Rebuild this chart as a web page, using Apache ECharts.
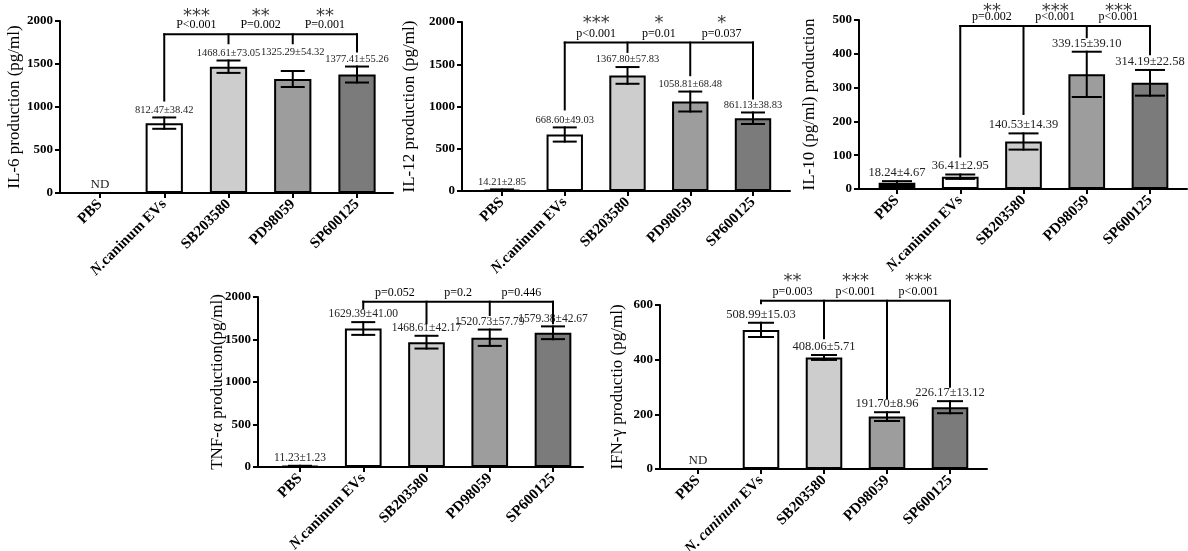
<!DOCTYPE html>
<html lang="en">
<head>
<meta charset="utf-8">
<script src="https://cdn.jsdelivr.net/npm/echarts/dist/echarts.min.js"></script>
</head>
<body style="margin:0;background:#fff">
<div id="main" style="width:1188px;height:551px"></div>
<script>
// groups on the x axis
var groups = ['PBS', 'N.caninum EVs', 'SB203580', 'PD98059', 'SP600125'];
var groupsIfn = ['PBS', 'N. caninum EVs', 'SB203580', 'PD98059', 'SP600125'];

// IL-6
var il6Mean = [null, 812.47, 1468.61, 1325.29, 1377.41];
var il6Err = [0, 66, 72, 93, 93];
var il6Text = ['ND', '812.47±38.42', '1468.61±73.05', '1325.29±54.32', '1377.41±55.26'];
var il6Drop = [null, 1075, 1741, 1741, 1644];
var il6Top = 1845;
var il6Stars = ['***', '**', '**'];
var il6P = ['P<0.001', 'P=0.002', 'P=0.001'];

// IL-12
var il12Mean = [14.21, 668.60, 1367.80, 1058.81, 861.13];
var il12Err = [5, 84, 99, 118, 68];
var il12Text = ['14.21±2.85', '668.60±49.03', '1367.80±57.83', '1058.81±68.48', '861.13±38.83'];
var il12Drop = [null, 965, 1646, 1370, 1094];
var il12Top = 1756;
var il12Stars = ['***', '*', '*'];
var il12P = ['p<0.001', 'p=0.01', 'p=0.037'];

// IL-10
var il10Mean = [18.24, 36.41, 140.53, 339.15, 314.19];
var il10Err = [5, 6.5, 24, 67, 38];
var il10Text = ['18.24±4.67', '36.41±2.95', '140.53±14.39', '339.15±39.10', '314.19±22.58'];
var il10Drop = [null, 96, 222, 449, 399];
var il10Top = 482;
var il10Stars = ['**', '***', '***'];
var il10P = ['p=0.002', 'p<0.001', 'p<0.001'];

// TNF-a
var tnfMean = [11.23, 1629.39, 1468.61, 1520.73, 1579.38];
var tnfErr = [3, 75, 75, 96, 75];
var tnfText = ['11.23±1.23', '1629.39±41.00', '1468.61±42.17', '1520.73±57.79', '1579.38±42.67'];
var tnfDrop = [null, 1867, 1690, 1788, 1690];
var tnfTop = 1945;
var tnfStars = ['', '', ''];
var tnfP = ['p=0.052', 'p=0.2', 'p=0.446'];

// IFN-g
var ifnMean = [null, 508.99, 408.06, 191.70, 226.17];
var ifnErr = [0, 26, 9, 16, 22];
var ifnText = ['ND', '508.99±15.03', '408.06±5.71', '191.70±8.96', '226.17±13.12'];
var ifnDrop = [null, 606, 478, 259, 301];
var ifnTop = 616;
var ifnStars = ['**', '***', '***'];
var ifnP = ['p=0.003', 'p<0.001', 'p<0.001'];

var barColors = ['#000000', '#ffffff', '#cdcdcd', '#9d9d9d', '#7b7b7b'];
var serif = "'Liberation Serif', 'DejaVu Serif', serif";

var panels = [
    {title: 'IL-6 production (pg/ml)', groups: groups, mean: il6Mean, err: il6Err, text: il6Text,
     drop: il6Drop, top: il6Top, stars: il6Stars, p: il6P, max: 2000, step: 500,
     axisX: 60, axisEnd: 393, first: 100, last: 357, y0: 21, y1: 193, gap: 37, valFont: 10.5, cap: 11,
     starGap: 18, lift: [0, 0, 0, 11, 0]},
    {title: 'IL-12 production (pg/ml)', groups: groups, mean: il12Mean, err: il12Err, text: il12Text,
     drop: il12Drop, top: il12Top, stars: il12Stars, p: il12P, max: 2000, step: 500,
     axisX: 462, axisEnd: 790, first: 502, last: 753, y0: 22, y1: 191, gap: 43.5, valFont: 10.5, cap: 11,
     starGap: 19, lift: [0, 0, 0, 0, 0]},
    {title: 'IL-10 (pg/ml) production', groups: groups, mean: il10Mean, err: il10Err, text: il10Text,
     drop: il10Drop, top: il10Top, stars: il10Stars, p: il10P, max: 500, step: 100,
     axisX: 859, axisEnd: 1187, first: 897, last: 1150, y0: 20, y1: 189, gap: 40.5, valFont: 12.5, cap: 14,
     starGap: 15, lift: [0, 0, 0, 0, 0]},
    {title: 'TNF-α production(pg/ml)', groups: groups, mean: tnfMean, err: tnfErr, text: tnfText,
     drop: tnfDrop, top: tnfTop, stars: tnfStars, p: tnfP, max: 2000, step: 500,
     axisX: 258, axisEnd: 583, first: 300, last: 553, y0: 297, y1: 467, gap: 31.5, valFont: 11.5, cap: 11,
     starGap: 18, lift: [0, 0, 0, 0, -1]},
    {title: 'IFN-γ productio (pg/ml)', groups: groupsIfn, mean: ifnMean, err: ifnErr, text: ifnText,
     drop: ifnDrop, top: ifnTop, stars: ifnStars, p: ifnP, max: 600, step: 200,
     axisX: 660, axisEnd: 987, first: 698, last: 950, y0: 305, y1: 469, gap: 33.5, valFont: 12.5, cap: 12,
     starGap: 19, lift: [0, 0, 0, 0, 0]}
];

function seg(x1, y1, x2, y2) {
    return {type: 'line', shape: {x1: x1, y1: y1, x2: x2, y2: y2},
            style: {stroke: '#000', lineWidth: 2, lineCap: 'square'}};
}
function txt(s, x, y, size, color, family) {
    return {type: 'text', style: {text: s, x: x, y: y, textAlign: 'center', textVerticalAlign: 'middle',
            fontSize: size, fontFamily: family || serif, fill: color}};
}

// error bars + value labels
function errorRender(p) {
    return function (params, api) {
        var i = params.dataIndex;
        var m = p.mean[i];
        var base = api.coord([i, m == null ? 0 : m]);
        var cx = base[0], topY = base[1];
        var kids = [];
        if (m != null && p.err[i] > 0) {
            var hi = api.coord([i, m + p.err[i]])[1];
            var lo = api.coord([i, m - p.err[i]])[1];
            kids.push(seg(cx, hi, cx, lo), seg(cx - p.cap, hi, cx + p.cap, hi), seg(cx - p.cap, lo, cx + p.cap, lo));
            topY = hi;
        }
        kids.push({type: 'text', style: {text: p.text[i], x: cx, y: topY - 2 - p.lift[i],
            textAlign: 'center', textVerticalAlign: 'bottom', fontSize: m == null ? 13 : p.valFont,
            fontFamily: serif, fill: '#222'}});
        return {type: 'group', children: kids};
    };
}

// significance bracket
function bracketRender(p) {
    return function (params, api) {
        var kids = [];
        var idx = [];
        p.drop.forEach(function (d, i) { if (d != null) idx.push(i); });
        var yTop = api.coord([0, p.top])[1];
        var xs = idx.map(function (i) { return api.coord([i, 0])[0]; });
        kids.push(seg(xs[0], yTop, xs[xs.length - 1], yTop));
        idx.forEach(function (i, k) {
            kids.push(seg(xs[k], yTop, xs[k], api.coord([i, p.drop[i]])[1]));
        });
        for (var k = 0; k < p.p.length; k++) {
            var mx = (api.coord([k + 1, 0])[0] + api.coord([k + 2, 0])[0]) / 2;
            kids.push(txt(p.p[k], mx, yTop - 9, 12, '#000'));
            if (p.stars[k]) kids.push(txt(p.stars[k], mx, yTop - p.starGap, 18, '#3a3a3a', "'DejaVu Sans', sans-serif"));
        }
        return {type: 'group', children: kids};
    };
}

var axisLine = {color: '#000', width: 2};
var grids = [], xAxes = [], yAxes = [], series = [];

panels.forEach(function (p, n) {
    var band = (p.last - p.first) / 4;
    var a = 2 * n, b = 2 * n + 1;
    grids.push({left: p.axisX, top: p.y0, width: p.axisEnd - p.axisX, height: p.y1 - p.y0, outerBoundsMode: 'none'});
    grids.push({left: p.first - band / 2, top: p.y0, width: band * 5, height: p.y1 - p.y0, outerBoundsMode: 'none'});

    xAxes.push({gridIndex: a, type: 'value', min: 0, max: 1,
        axisLine: {show: true, onZero: false, lineStyle: axisLine},
        axisTick: {show: false}, axisLabel: {show: false}, splitLine: {show: false}});
    yAxes.push({gridIndex: a, type: 'value', min: 0, max: p.max, interval: p.step,
        name: p.title, nameLocation: 'middle', nameGap: p.gap, nameMoveOverlap: false,
        nameTextStyle: {fontFamily: serif, fontSize: 17, color: '#000'},
        axisLine: {show: true, onZero: false, lineStyle: axisLine},
        axisTick: {show: true, length: 5, lineStyle: axisLine},
        axisLabel: {margin: 7, fontFamily: serif, fontSize: 13, fontWeight: 'bold', color: '#000',
            formatter: function (v) { return String(v); }},
        splitLine: {show: false}});

    xAxes.push({gridIndex: b, type: 'category', data: p.groups,
        axisLine: {show: false},
        axisTick: {show: true, alignWithLabel: true, length: 5, lineStyle: axisLine},
        axisLabel: {rotate: 45, interval: 0, margin: 9, fontFamily: serif, fontSize: 15,
            fontWeight: 'bold', color: '#000',
            formatter: function (v) {
                if (v.indexOf('N. caninum') === 0) return '{i|N. caninum}' + v.slice(10);
                if (v.indexOf('N.') === 0) return '{i|N.}' + v.slice(2);
                return v;
            },
            rich: {i: {fontStyle: 'italic', fontWeight: 'bold', fontFamily: serif, fontSize: 15, color: '#000'}}},
        splitLine: {show: false}});
    yAxes.push({gridIndex: b, type: 'value', min: 0, max: p.max, show: false});

    series.push({
        type: 'bar', xAxisIndex: b, yAxisIndex: b, barWidth: '58%',
        data: p.mean.map(function (v, i) {
            return {value: v, itemStyle: {color: barColors[i], borderColor: '#000', borderWidth: 2}};
        })
    });
    series.push({
        type: 'custom', xAxisIndex: b, yAxisIndex: b, clip: false, z: 5,
        renderItem: errorRender(p),
        data: p.mean.map(function (v, i) { return [i, v == null ? 0 : v]; })
    });
    series.push({
        type: 'custom', xAxisIndex: b, yAxisIndex: b, clip: false, z: 6,
        renderItem: bracketRender(p),
        data: [[0, p.top]]
    });
});

var chart = echarts.init(document.getElementById('main'));
chart.setOption({
    animation: false,
    backgroundColor: '#fff',
    grid: grids,
    xAxis: xAxes,
    yAxis: yAxes,
    series: series
});
</script>
</body>
</html>
